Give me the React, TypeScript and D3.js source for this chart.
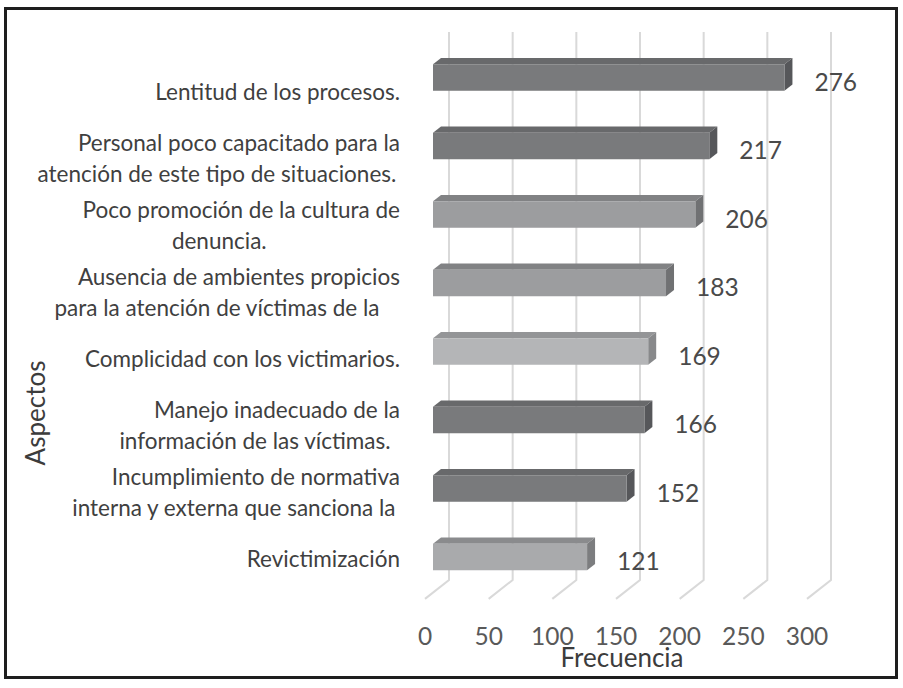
import React, { useEffect, useRef } from "react";
import * as d3 from "d3";

// ---- data ----
const categoryLines: string[][] = [
  ["Lentitud de los procesos."],
  ["Personal poco capacitado para la", "atención de este tipo de situaciones."],
  ["Poco promoción de la cultura de", "denuncia."],
  ["Ausencia de ambientes propicios", "para la atención de víctimas de la"],
  ["Complicidad con los victimarios."],
  ["Manejo inadecuado de la", "información de las víctimas."],
  ["Incumplimiento de normativa", "interna y externa que sanciona la"],
  ["Revictimización"],
];
const values: number[] = [276, 217, 206, 183, 169, 166, 152, 121];
const tickValues: number[] = [0, 50, 100, 150, 200, 250, 300];
const xTitle = "Frecuencia";
const yTitle = "Aspectos";

// ---- style ----
const shadeOf = ["dark", "dark", "medium", "medium", "light", "dark", "dark", "pale"];
const palette: Record<string, { front: string; top: string; side: string }> = {
  dark: { front: "#797a7c", top: "#68696b", side: "#56575a" },
  medium: { front: "#9c9d9f", top: "#818284", side: "#707173" },
  light: { front: "#b4b5b7", top: "#949597", side: "#88898b" },
  pale: { front: "#a9aaac", top: "#8a8b8d", side: "#7c7d7f" },
};
const FONT = "Lato, 'Open Sans', sans-serif";

export default function App() {
  const ref = useRef<SVGSVGElement | null>(null);

  useEffect(() => {
    const svg = d3.select(ref.current!);
    svg.selectAll("*").remove();
    const W = 903, H = 688;
    const dx = 8, dy = -6.3; // one depth unit
    const names = categoryLines.map((l) => l.join(" "));

    const x = d3.scaleLinear().domain([0, 300]).range([433, 815]);
    const y = d3
      .scaleBand<string>()
      .domain(names)
      .range([43.25, 591.25])
      .paddingInner(0.613)
      .paddingOuter(0.3065);
    const yLab = d3.scalePoint<string>().domain(names).range([100, 567]);

    svg.append("rect").attr("width", W).attr("height", H).attr("fill", "#ffffff");
    svg
      .append("rect")
      .attr("x", 5.5)
      .attr("y", 8.5)
      .attr("width", 891)
      .attr("height", 669)
      .attr("fill", "none")
      .attr("stroke", "#1e1e1e")
      .attr("stroke-width", 3);

    // gridlines: back wall + floor
    const wallTop = 32, wallBottom = 580;
    const g = svg.append("g");
    tickValues.forEach((t) => {
      const xb = x(t) + 2 * dx;
      g.append("path")
        .attr(
          "d",
          `M${xb},${wallTop}L${xb},${wallBottom}L${xb - 3 * dx},${wallBottom - 3 * dy}`
        )
        .attr("fill", "none")
        .attr("stroke", "#d9d9d9")
        .attr("stroke-width", 2);
    });

    // bars
    const bars = svg.append("g");
    values.forEach((v, i) => {
      const c = palette[shadeOf[i]];
      const x0 = x(0), x1 = x(v);
      const y0 = y(names[i])!, h = y.bandwidth();
      bars
        .append("path")
        .attr("d", `M${x0},${y0}L${x0 + dx},${y0 + dy}L${x1 + dx},${y0 + dy}L${x1},${y0}Z`)
        .attr("fill", c.top);
      bars
        .append("path")
        .attr("d", `M${x1},${y0}L${x1 + dx},${y0 + dy}L${x1 + dx},${y0 + h + dy}L${x1},${y0 + h}Z`)
        .attr("fill", c.side);
      bars
        .append("rect")
        .attr("x", x0)
        .attr("y", y0)
        .attr("width", x1 - x0)
        .attr("height", h)
        .attr("fill", c.front);
      svg
        .append("text")
        .attr("x", x1 + 30)
        .attr("y", y0 + h / 2 + 13)
        .attr("font-family", FONT)
        .attr("font-size", 24.5)
        .attr("fill", "#4a4a4a")
        .text(String(v));
    });

    // tick labels
    tickValues.forEach((t) => {
      svg
        .append("text")
        .attr("x", x(t) - dx)
        .attr("y", 645)
        .attr("text-anchor", "middle")
        .attr("font-family", FONT)
        .attr("font-size", 24.5)
        .attr("fill", "#595959")
        .text(String(t));
    });

    // category labels
    const right = 400;
    categoryLines.forEach((lines, i) => {
      const cy = yLab(names[i])!;
      const n = lines.length;
      const lh = 31;
      const first = svg
        .append("text")
        .attr("x", right)
        .attr("y", cy - ((n - 1) * lh) / 2)
        .attr("text-anchor", "end")
        .attr("font-family", FONT)
        .attr("font-size", 22.5)
        .attr("fill", "#404040")
        .text(lines[0]);
      const w1 = (first.node() as SVGTextElement).getComputedTextLength();
      const c1 = right - w1 / 2;
      lines.slice(1).forEach((ln, k) => {
        svg
          .append("text")
          .attr("x", c1 - 22)
          .attr("y", cy - ((n - 1) * lh) / 2 + (k + 1) * lh)
          .attr("text-anchor", "middle")
          .attr("font-family", FONT)
          .attr("font-size", 22.5)
          .attr("fill", "#404040")
          .text(ln);
      });
    });

    // axis titles
    svg
      .append("text")
      .attr("x", 622)
      .attr("y", 667)
      .attr("text-anchor", "middle")
      .attr("font-family", FONT)
      .attr("font-size", 26)
      .attr("fill", "#3c3c3c")
      .text(xTitle);
    svg
      .append("text")
      .attr("transform", "translate(45,413) rotate(-90)")
      .attr("text-anchor", "middle")
      .attr("font-family", FONT)
      .attr("font-size", 26)
      .attr("fill", "#3c3c3c")
      .text(yTitle);
  }, []);

  return (
    <svg
      ref={ref}
      width={903}
      height={688}
      style={{ position: "absolute", left: 0, top: 0, display: "block" }}
    />
  );
}
